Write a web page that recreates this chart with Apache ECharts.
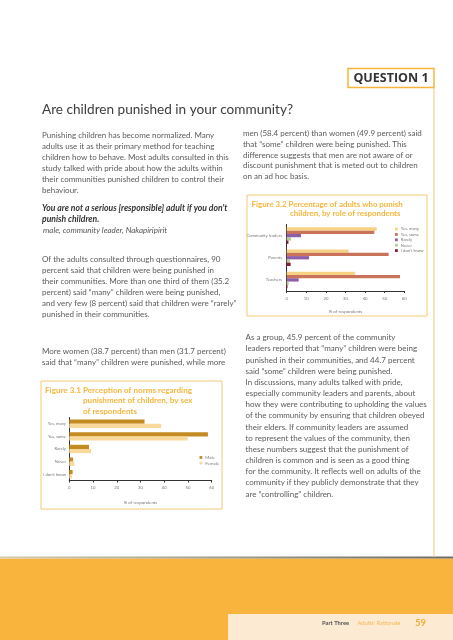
<!DOCTYPE html>
<html><head><meta charset="utf-8">
<script src="https://cdn.jsdelivr.net/npm/echarts@6/dist/echarts.min.js"></script>
<style>html,body{margin:0;padding:0;background:#fff}#c{width:453px;height:640px}</style>
</head><body><div id="c"></div>
<script>
// Figure 3.1 data
const sexCategories = ['Yes, many', 'Yes, some', 'Rarely', 'Never', "I don't know"];
const maleValues = [31.7, 58.4, 8.3, 1.6, 1.4];
const femaleValues = [38.7, 49.9, 9.2, 2.2, 1.1];
// Figure 3.2 data
const roleCategories = ['Community leaders', 'Parents', 'Teachers'];
const yesManyValues = [45.9, 31.6, 34.8];
const yesSomeValues = [44.7, 52.0, 57.8];
const rarelyValues = [7.3, 11.4, 6.1];
const neverValues = [2.2, 1.7, 1.0];
const dontKnowValues = [0.9, 2.0, 0.4];
// shared x-axis ticks
const xTicks = [0, 10, 20, 30, 40, 50, 60];

const FONT = 'Lato';
const BODY = '8.0px ' + FONT;
const bodyColor = '#5a5a5a';
const orange = '#F6B63C';
const boxOrange = '#F5C872';

function lines(x, y0, dy, arr, font, fill) {
  return arr.map((t, i) => ({
    type: 'text', x: x, y: y0 + dy * i, z: 10,
    style: { text: t, font: font || BODY, fill: fill || bodyColor, verticalAlign: 'middle', align: 'left' }
  }));
}

const graphics = [].concat(
  [{ type: 'rect', shape: { x: 348, y: 68.5, width: 86, height: 19 }, style: { fill: '#fff', stroke: orange, lineWidth: 1.5 }, z: 5 },
   { type: 'line', shape: { x1: 434, y1: 88, x2: 434, y2: 557 }, style: { stroke: boxOrange, lineWidth: 1 }, z: 4 },
   { type: 'text', x: 391, y: 78.5, z: 10, style: { text: 'QUESTION 1', font: 'bold 12.5px "Open Sans"', fill: '#333', align: 'center', verticalAlign: 'middle' } },
   { type: 'text', x: 42, y: 110, z: 10, style: { text: 'Are children punished in your community?', font: '13.6px ' + FONT, fill: '#3c3c3c', verticalAlign: 'middle' } }],
  lines(42, 135.5, 10.9, [
    'Punishing children has become normalized. Many',
    'adults use it as their primary method for teaching',
    'children how to behave. Most adults consulted in this',
    'study talked with pride about how the adults within',
    'their communities punished children to control their',
    'behaviour.'
  ]),
  lines(42, 208.3, 11, [
    "You are not a serious [responsible] adult if you don't",
    'punish children.'
  ], 'italic bold 8.6px ' + FONT, '#333'),
  lines(43, 230.7, 11, ['male, community leader, Nakapiripirit'], 'italic 8.0px ' + FONT, '#555'),
  lines(42, 259, 11, [
    'Of the adults consulted through questionnaires, 90',
    'percent said that children were being punished in',
    'their communities. More than one third of them (35.2',
    'percent) said \u201Cmany\u201D children were being punished,',
    'and very few (8 percent) said that children were \u201Crarely\u201D',
    'punished in their communities.'
  ]),
  lines(42, 351, 11.3, [
    'More women (38.7 percent) than men (31.7 percent)',
    'said that \u201Cmany\u201D children were punished, while more'
  ]),
  lines(243, 133.5, 10.8, [
    'men (58.4 percent) than women (49.9 percent) said',
    'that \u201Csome\u201D children were being punished. This',
    'difference suggests that men are not aware of or',
    'discount punishment that is meted out to children',
    'on an ad hoc basis.'
  ]),
  lines(245.5, 337.7, 11.17, [
    'As a group, 45.9 percent of the community',
    'leaders reported that \u201Cmany\u201D children were being',
    'punished in their communities, and 44.7 percent',
    'said \u201Csome\u201D children were being punished.',
    'In discussions, many adults talked with pride,',
    'especially community leaders and parents, about',
    'how they were contributing to upholding the values',
    'of the community by ensuring that children obeyed',
    'their elders. If community leaders are assumed',
    'to represent the values of the community, then',
    'these numbers suggest that the punishment of',
    'children is common and is seen as a good thing',
    'for the community. It reflects well on adults of the',
    'community if they publicly demonstrate that they',
    'are \u201Ccontrolling\u201D children.'
  ], '8.0px ' + FONT),
  [{ type: 'rect', shape: { x: 41, y: 381, width: 181, height: 128 }, style: { fill: 'none', stroke: boxOrange, lineWidth: 1 }, z: 1 },
   { type: 'rect', shape: { x: 247, y: 195, width: 180, height: 121 }, style: { fill: 'none', stroke: boxOrange, lineWidth: 1 }, z: 1 }],
  lines(45, 390.5, 10.2, ['Figure 3.1 Perception of norms regarding'], 'bold 8.1px ' + FONT, orange),
  lines(83, 400.7, 10.2, ['punishment of children, by sex', 'of respondents'], 'bold 8.1px ' + FONT, orange),
  lines(251.5, 204, 9, ['Figure 3.2 Percentage of adults who punish'], 'bold 7.9px ' + FONT, orange),
  lines(290, 213, 9, ['children, by role of respondents'], 'bold 7.9px ' + FONT, orange),
  [{ type: 'rect', shape: { x: 0, y: 556.5, width: 453, height: 2 }, z: 2,
     style: { fill: new echarts.graphic.LinearGradient(0, 0, 1, 0, [{ offset: 0, color: '#d8c9a8' }, { offset: 1, color: '#6e6a64' }]) } },
   { type: 'rect', shape: { x: 0, y: 558.5, width: 453, height: 81.5 }, style: { fill: '#F8B43C' }, z: 1 },
   { type: 'rect', shape: { x: 228, y: 614, width: 225, height: 26 }, style: { fill: '#FDEAD3' }, z: 2 },
   { type: 'text', x: 322, y: 623.5, z: 10, style: { text: 'Part Three', font: 'bold 5.8px ' + FONT, fill: '#555', verticalAlign: 'middle' } },
   { type: 'text', x: 357.5, y: 623.5, z: 10, style: { text: "Adults' Rationale", font: '5.8px ' + FONT, fill: '#F5B850', verticalAlign: 'middle' } },
   { type: 'text', x: 415, y: 622.8, z: 10, style: { text: '59', font: 'bold 9.5px ' + FONT, fill: '#F3AE3A', verticalAlign: 'middle' } }]
);

const axisLabelStyle = { fontSize: 4.2, color: '#777', fontFamily: FONT };

const option = {
  backgroundColor: '#fff',
  animation: false,
  textStyle: { fontFamily: FONT },
  graphic: { elements: graphics },
  legend: [
    { data: ['Male', 'Female'], orient: 'vertical', left: 199.5, top: 455, icon: 'rect',
      itemWidth: 2.8, itemHeight: 2.8, itemGap: 0.6, padding: 0,
      textStyle: { fontSize: 4.4, color: '#777', lineHeight: 5, padding: [0, 0, 0, -2] } },
    { data: ['Yes, many', 'Yes, some', 'Rarely', 'Never', "I don't know"], orient: 'vertical', left: 395, top: 226.5, icon: 'rect',
      itemWidth: 2.8, itemHeight: 2.8, itemGap: 0.4, padding: 0,
      textStyle: { fontSize: 4.2, color: '#777', lineHeight: 5, padding: [0, 0, 0, -2] } }
  ],
  grid: [
    { left: 69.3, top: 417.5, width: 142.4, height: 63 },
    { left: 286.7, top: 224.5, width: 117.6, height: 66.5 }
  ],
  xAxis: [0, 1].map(i => ({
    type: 'value', gridIndex: i, min: xTicks[0], max: xTicks[xTicks.length - 1], interval: xTicks[1] - xTicks[0],
    splitLine: { show: false },
    axisLine: { show: true, lineStyle: { color: '#333', width: 1 } },
    axisTick: { show: true, length: 2, lineStyle: { color: '#333' } },
    axisLabel: Object.assign({ margin: 5.5 }, axisLabelStyle),
    name: '% of respondents', nameLocation: 'middle', nameGap: i === 0 ? 20 : 18.3,
    nameTextStyle: { fontSize: 4.4, color: '#777' }
  })),
  yAxis: [
    { type: 'category', gridIndex: 0, data: sexCategories, inverse: true,
      axisLine: { show: true, lineStyle: { color: '#333', width: 1 } }, axisTick: { show: false },
      axisLabel: Object.assign({ margin: 3.3 }, axisLabelStyle) },
    { type: 'category', gridIndex: 1, data: roleCategories, inverse: true,
      axisLine: { show: true, lineStyle: { color: '#333', width: 1 } }, axisTick: { show: false },
      axisLabel: Object.assign({ margin: 4.7 }, axisLabelStyle) }
  ],
  series: [
    { name: 'Male', type: 'bar', xAxisIndex: 0, yAxisIndex: 0, data: maleValues, barWidth: 4.2, barGap: '0%', itemStyle: { color: '#C48B22' } },
    { name: 'Female', type: 'bar', xAxisIndex: 0, yAxisIndex: 0, data: femaleValues, barWidth: 4.2, barGap: '0%', itemStyle: { color: '#F9D99B' } },
    { name: 'Yes, many', type: 'bar', xAxisIndex: 1, yAxisIndex: 1, data: yesManyValues, barWidth: 3.3, barGap: '0%', itemStyle: { color: '#F8D283' } },
    { name: 'Yes, some', type: 'bar', xAxisIndex: 1, yAxisIndex: 1, data: yesSomeValues, barWidth: 3.3, barGap: '0%', itemStyle: { color: '#C9735B' } },
    { name: 'Rarely', type: 'bar', xAxisIndex: 1, yAxisIndex: 1, data: rarelyValues, barWidth: 3.3, barGap: '0%', itemStyle: { color: '#8F5EA8' } },
    { name: 'Never', type: 'bar', xAxisIndex: 1, yAxisIndex: 1, data: neverValues, barWidth: 3.3, barGap: '0%', itemStyle: { color: '#B8CA90' } },
    { name: "I don't know", type: 'bar', xAxisIndex: 1, yAxisIndex: 1, data: dontKnowValues, barWidth: 3.3, barGap: '0%', itemStyle: { color: '#8A1E36' } }
  ]
};
const chart = echarts.init(document.getElementById('c'), null, { renderer: 'canvas' });
chart.setOption(option);
</script>
</body></html>
